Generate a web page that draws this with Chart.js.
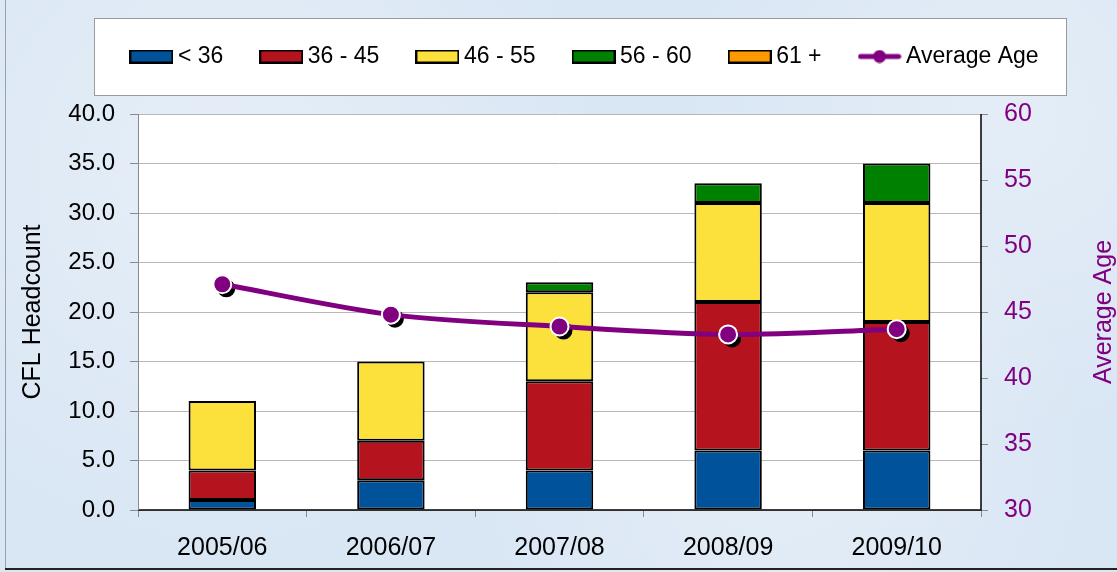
<!DOCTYPE html>
<html><head><meta charset="utf-8">
<script src="https://cdn.jsdelivr.net/npm/chart.js@4.4.1/dist/chart.umd.min.js"></script>
<style>
html,body{margin:0;padding:0;background:#d9e6f4;}
#wrap{width:1117px;height:572px;position:relative;
 background:
  radial-gradient(circle at 20% 30%, rgba(255,255,255,0.35) 0, rgba(255,255,255,0) 40%),
  radial-gradient(circle at 70% 80%, rgba(255,255,255,0.3) 0, rgba(255,255,255,0) 35%),
  radial-gradient(circle at 90% 20%, rgba(255,255,255,0.3) 0, rgba(255,255,255,0) 30%),
  #d9e6f4;}
</style></head><body>
<div id="wrap"><canvas id="c" width="1117" height="572"></canvas></div>
<script>
const categories = ['2005/06', '2006/07', '2007/08', '2008/09', '2009/10'];
const under36   = [1, 3, 4, 6, 6];
const age36to45 = [3, 4, 9, 15, 13];
const age46to55 = [7, 8, 9, 10, 12];
const age56to60 = [0, 0, 1, 2, 4];
const age61plus = [0, 0, 0, 0, 0];
const averageAge = [47.1, 44.8, 43.9, 43.3, 43.7];
const seriesNames = ['< 36', '36 - 45', '46 - 55', '56 - 60', '61 +', 'Average Age'];
const headcountRange = [0, 40, 5];
const ageRange = [30, 60, 5];

const FONT = "'Liberation Sans', Arial, sans-serif";
const PURPLE = '#800080';
const barColors = ['#00529b', '#b5141e', '#fce03c', '#008000', '#ff9900'];

// legend icons
function rectIcon(color) {
  const c = document.createElement('canvas');
  c.width = 44; c.height = 14;
  const g = c.getContext('2d');
  g.fillStyle = color; g.fillRect(0, 0, 44, 14);
  g.strokeStyle = '#000'; g.lineWidth = 2; g.strokeRect(1, 1, 42, 12);
  return c;
}
const lineIcon = document.createElement('canvas');
lineIcon.width = 44; lineIcon.height = 14;
(function(){
  const g = lineIcon.getContext('2d');
  g.strokeStyle = PURPLE; g.lineWidth = 5; g.lineCap = 'round';
  g.beginPath(); g.moveTo(3, 7); g.lineTo(41, 7); g.stroke();
  g.fillStyle = PURPLE; g.beginPath(); g.arc(22, 7, 6.5, 0, Math.PI * 2); g.fill();
})();
const icons = barColors.map(rectIcon).concat([lineIcon]);

const legendTweak = {
  id: 'legendTweak',
  beforeInit(chart) {
    const lg = chart.legend;
    if (!lg) return;
    const orig = lg.fit;
    lg.fit = function() { orig.call(this); this.height = 112; };
  },
  afterLayout(chart) {
    const lg = chart.legend;
    if (!lg) return;
    lg.left += 29; lg.right += 29;
  }
};

const frame = {
  id: 'frame',
  beforeDraw(chart) {
    const ctx = chart.ctx, a = chart.chartArea;
    ctx.save();
    ctx.strokeStyle = '#9aa3ad'; ctx.lineWidth = 1;
    ctx.beginPath(); ctx.moveTo(5.5, 0); ctx.lineTo(5.5, 569); ctx.stroke();
    ctx.strokeStyle = '#222'; ctx.lineWidth = 2;
    ctx.beginPath(); ctx.moveTo(5, 569); ctx.lineTo(1117, 569); ctx.stroke();
    ctx.fillStyle = '#ffffff';
    ctx.fillRect(a.left, a.top, a.right - a.left, a.bottom - a.top);
    const hb = chart.legend.legendHitBoxes;
    if (hb && hb.length) {
      const first = hb[0], last = hb[hb.length - 1];
      const cy = first.top + first.height / 2;
      const l = Math.round(first.left - 42), r = Math.round(last.left + last.width + 27);
      const t = Math.round(cy - 39);
      ctx.fillStyle = '#ffffff';
      ctx.fillRect(l, t, r - l, 77);
      ctx.strokeStyle = '#9a9a9a'; ctx.lineWidth = 1;
      ctx.strokeRect(l + 0.5, t + 0.5, r - l, 77);
    }
    ctx.restore();
  },
  beforeDatasetDraw(chart, args) {
    if (chart.data.datasets[args.index].type !== 'line') return;
    const ctx = chart.ctx;
    ctx.save();
    ctx.fillStyle = '#000';
    args.meta.data.forEach(p => {
      ctx.beginPath(); ctx.arc(p.x + 4, p.y + 4, 9, 0, Math.PI * 2); ctx.fill();
    });
    ctx.restore();
  },
  afterDraw(chart) {
    const ctx = chart.ctx, a = chart.chartArea;
    ctx.save();
    ctx.strokeStyle = '#000'; ctx.lineWidth = 1.5;
    ctx.beginPath();
    ctx.moveTo(a.left, a.bottom); ctx.lineTo(a.right, a.bottom); ctx.lineTo(a.right, a.top);
    ctx.stroke();
    ctx.strokeStyle = '#8a8a8a'; ctx.lineWidth = 1;
    ctx.beginPath();
    ctx.moveTo(a.left + 0.5, a.top); ctx.lineTo(a.left + 0.5, a.bottom);
    ctx.stroke();
    ctx.fillStyle = PURPLE;
    ctx.font = "25px " + FONT;
    ctx.textAlign = 'center'; ctx.textBaseline = 'middle';
    ctx.translate(1104, (a.top + a.bottom) / 2);
    ctx.rotate(-Math.PI / 2);
    ctx.fillText(seriesNames[5], 0, 0);
    ctx.restore();
  }
};

const barData = [under36, age36to45, age46to55, age56to60, age61plus];
const datasets = barData.map((d, i) => ({
  type: 'bar',
  label: seriesNames[i],
  data: d,
  backgroundColor: barColors[i],
  borderColor: '#000',
  borderWidth: 2,
  borderSkipped: false,
  yAxisID: 'y',
  stack: 's',
  categoryPercentage: 1.0,
  barPercentage: 0.4
}));
datasets.push({
  type: 'line',
  label: seriesNames[5],
  data: averageAge,
  yAxisID: 'y1',
  borderColor: PURPLE,
  borderWidth: 5,
  tension: 0.3,
  pointRadius: 9,
  pointBackgroundColor: PURPLE,
  pointBorderColor: '#ffffff',
  pointBorderWidth: 2,
  order: -1
});

Chart.defaults.font.family = FONT;
Chart.defaults.color = '#000';

new Chart(document.getElementById('c'), {
  data: { labels: categories, datasets },
  plugins: [legendTweak, frame],
  options: {
    responsive: false,
    animation: false,
    layout: { padding: { left: 0, right: 0, top: 2, bottom: 0 } },
    plugins: {
      tooltip: { enabled: false },
      legend: {
        position: 'top',
        labels: {
          font: { size: 23 },
          color: '#000',
          padding: 43,
          usePointStyle: true,
          pointStyleWidth: 30,
          boxHeight: 14,
          generateLabels(chart) {
            const items = Chart.defaults.plugins.legend.labels.generateLabels(chart);
            items.forEach(it => { it.pointStyle = icons[it.datasetIndex]; });
            items.sort((a, b) => a.datasetIndex - b.datasetIndex);
            return items;
          }
        }
      }
    },
    scales: {
      x: {
        stacked: true,
        offset: true,
        afterFit(s) { s.height = 62; },
        grid: { display: true, drawOnChartArea: false, offset: true, tickLength: 7, color: '#8a8a8a' },
        border: { display: false },
        ticks: { font: { size: 25 }, color: '#000', padding: 16 }
      },
      y: {
        position: 'left',
        stacked: true,
        min: headcountRange[0], max: headcountRange[1],
        afterFit(s) { s.width = 138; },
        ticks: { stepSize: headcountRange[2], font: { size: 24 }, color: '#000', padding: 15,
                 callback: v => Number(v).toFixed(1) },
        grid: { color: '#b8b8b8', tickLength: 8, tickColor: '#8a8a8a' },
        border: { display: false },
        title: { display: true, text: 'CFL Headcount', font: { size: 25 }, color: '#000',
                 padding: { top: 18, bottom: 4 } }
      },
      y1: {
        position: 'right',
        min: ageRange[0], max: ageRange[1],
        afterFit(s) { s.width = 136; },
        ticks: { stepSize: ageRange[2], font: { size: 25 }, color: PURPLE, padding: 16 },
        grid: { drawOnChartArea: false, tickLength: 7, color: '#8a8a8a' },
        border: { display: false },
        title: { display: true, text: 'Average Age', font: { size: 25, lineHeight: 1 },
                 color: 'rgba(0,0,0,0)', padding: { top: 0, bottom: 60 } }
      }
    }
  }
});
</script>
</body></html>
